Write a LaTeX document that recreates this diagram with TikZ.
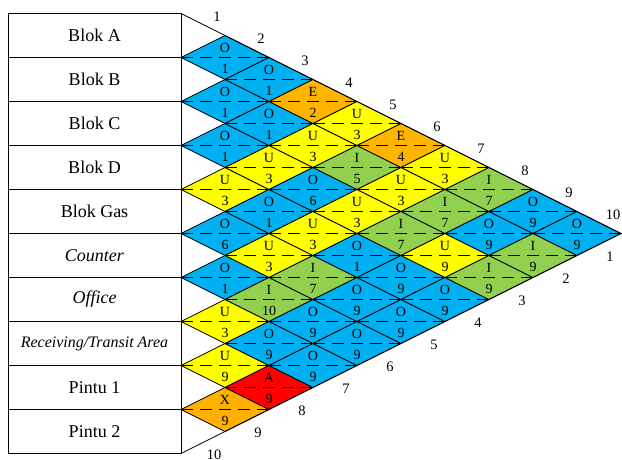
\documentclass[tikz,border=0pt]{standalone}
\usepackage{fontspec}
\setmainfont{Liberation Serif}
\usepackage{tikz}
\usetikzlibrary{positioning,shapes.geometric}
\usepackage{xcolor}
\definecolor{cO}{HTML}{00B0F0}
\definecolor{cU}{HTML}{FFFF00}
\definecolor{cI}{HTML}{92D050}
\definecolor{cE}{HTML}{FFB400}
\definecolor{cX}{HTML}{FFB000}
\definecolor{cA}{HTML}{FF0000}

\begin{document}
\begin{tikzpicture}[
  x=1pt, y=-1pt,
  rowbox/.style={
    draw, line width=.8pt,
    minimum width=173pt, minimum height=44pt,
    inner sep=0pt, outer sep=0pt,
    font=\fontsize{18}{20}\selectfont
  },
  cell/.style={
    diamond, draw, line width=.8pt,
    minimum width=88pt, minimum height=44pt,
    inner sep=0pt, outer sep=0pt
  },
  midline/.style={line width=.8pt, dash pattern=on 12pt off 7pt},
  relmark/.style={anchor=base, inner sep=0pt, font=\fontsize{14}{14}\selectfont},
  edgenum/.style={inner sep=0pt, font=\fontsize{14.5}{15}\selectfont}
]
\useasboundingbox (0,0) rectangle (622,459);

% --- Daftar area ---
\node[rowbox] (blokA) at (94.5,35.5) {Blok A};
\node[rowbox, below=0pt of blokA] (blokB) {Blok B};
\node[rowbox, below=0pt of blokB] (blokC) {Blok C};
\node[rowbox, below=0pt of blokC] (blokD) {Blok D};
\node[rowbox, below=0pt of blokD] (blokGas) {Blok Gas};
\node[rowbox, below=0pt of blokGas] (counter) {\textit{Counter}};
\node[rowbox, below=0pt of counter] (office) {\textit{Office}};
\node[rowbox, below=0pt of office, font=\fontsize{16}{18}\selectfont] (receiving) {\textit{Receiving/Transit Area}};
\node[rowbox, below=0pt of receiving] (pintuA) {Pintu 1};
\node[rowbox, below=0pt of pintuA] (pintuB) {Pintu 2};

% --- Diagram keterkaitan (i/j/derajat/alasan/warna) ---
\foreach \i/\j/\lt/\nm/\cl in {
  1/2/O/1/cO, 2/3/O/1/cO, 3/4/O/1/cO, 4/5/U/3/cU, 5/6/O/6/cO,
  6/7/O/1/cO, 7/8/U/3/cU, 8/9/U/9/cU, 9/10/X/9/cX,
  1/3/O/1/cO, 2/4/O/1/cO, 3/5/U/3/cU, 4/6/O/1/cO, 5/7/U/3/cU,
  6/8/I/10/cI, 7/9/O/9/cO, 8/10/A/9/cA,
  1/4/E/2/cE, 2/5/U/3/cU, 3/6/O/6/cO, 4/7/U/3/cU, 5/8/I/7/cI,
  6/9/O/9/cO, 7/10/O/9/cO,
  1/5/U/3/cU, 2/6/I/5/cI, 3/7/U/3/cU, 4/8/O/1/cO, 5/9/O/9/cO, 6/10/O/9/cO,
  1/6/E/4/cE, 2/7/U/3/cU, 3/8/I/7/cI, 4/9/O/9/cO, 5/10/O/9/cO,
  1/7/U/3/cU, 2/8/I/7/cI, 3/9/U/9/cU, 4/10/O/9/cO,
  1/8/I/7/cI, 2/9/O/9/cO, 3/10/I/9/cI,
  1/9/O/9/cO, 2/10/I/9/cI,
  1/10/O/9/cO} {
  \node[cell, fill=\cl] (d\i-\j) at ({181+44*(\j-\i)},{35.5+22*(\i+\j-2)}) {};
  \draw[midline] (d\i-\j.west) -- (d\i-\j.east);
  \node[relmark] (l\i-\j) at ([yshift=5pt]d\i-\j.center) {\lt};
  \node[relmark] (n\i-\j) at ([yshift=-15.5pt]d\i-\j.center) {\nm};
}

% --- Garis tepi ---
\draw[line width=.8pt] (blokA.north east) -- (d1-10.east) -- (pintuB.south east);

% --- Nomor baris ---
\foreach \k in {1,...,10} {
  \node[edgenum] (top\k) at ({217+44*(\k-1)},{17+22*(\k-1)}) {\k};
  \node[edgenum] (bot\k) at ({610-44*(\k-1)},{256.7+22*(\k-1)}) {\k};
}

\end{tikzpicture}
\end{document}
